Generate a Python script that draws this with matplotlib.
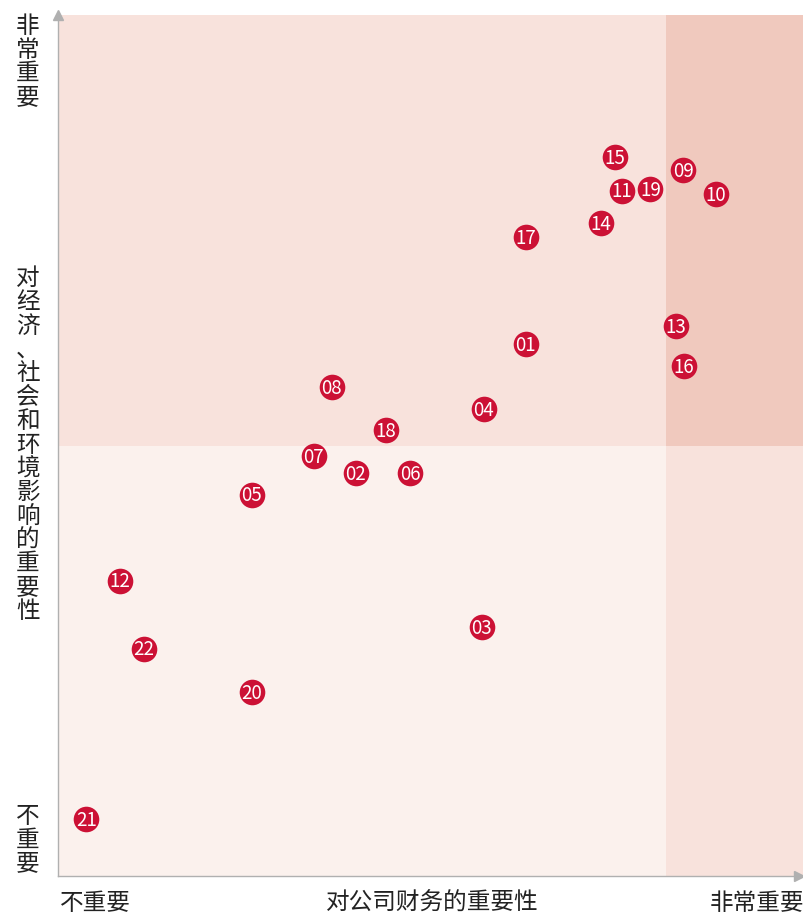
import matplotlib
matplotlib.use('Agg')

import matplotlib.pyplot as plt
from matplotlib.patches import Rectangle

plt.rcParams['font.family'] = ['Noto Sans CJK SC', 'DejaVu Sans']

# ==============================
# DATA
# ==============================

labels = ["01", "02", "03", "04", "05", "06", "07", "08", "09", "10", "11",
          "12", "13", "14", "15", "16", "17", "18", "19", "20", "21", "22"]
fin_importance = [62.7, 39.9, 56.8, 57.1, 26.0, 47.2, 34.3, 36.7, 83.8, 88.2, 75.6,
                  8.3, 82.8, 72.8, 74.7, 83.9, 62.7, 44.0, 79.4, 26.0, 3.8, 11.5]
impact_importance = [61.8, 46.8, 28.9, 54.2, 44.3, 46.8, 48.8, 56.8, 82.0, 79.2, 79.6,
                     34.3, 63.9, 75.8, 83.5, 59.2, 74.2, 51.8, 79.8, 21.4, 6.6, 26.4]

x_split = 81.5
y_split = 50

# ==============================
# FIGURE
# ==============================

fig = plt.figure(figsize=(8.04, 9.18), dpi=100)
ax = fig.add_axes([58 / 804, 42 / 918, 746 / 804, 861 / 918])
ax.set_xlim(0, 100)
ax.set_ylim(0, 100)

# quadrant backgrounds
ax.add_patch(Rectangle((0, y_split), x_split, 100 - y_split, color="#f8e2dc", lw=0, zorder=0))
ax.add_patch(Rectangle((x_split, y_split), 100 - x_split, 100 - y_split, color="#f0c9be", lw=0, zorder=0))
ax.add_patch(Rectangle((0, 0), x_split, y_split, color="#fbf1ed", lw=0, zorder=0))
ax.add_patch(Rectangle((x_split, 0), 100 - x_split, y_split, color="#f8e2dc", lw=0, zorder=0))

# points
ax.scatter(fin_importance, impact_importance, s=340, color="#cc1135", lw=0, zorder=3)
for lab, x, y in zip(labels, fin_importance, impact_importance):
    ax.text(x, y - 0.15, lab, color="white", fontsize=13.5, ha="center", va="center",
            fontweight="light", zorder=4)

# axes with arrows
for s in ["top", "right"]:
    ax.spines[s].set_visible(False)
for s in ["left", "bottom"]:
    ax.spines[s].set_color("#b0b0b0")
    ax.spines[s].set_linewidth(1.0)
ax.set_xticks([])
ax.set_yticks([])
ax.plot(0, 1, "^", color="#b0b0b0", ms=7, transform=ax.transAxes, clip_on=False)
ax.plot(1 - 5 / 746, 0, ">", color="#b0b0b0", ms=7, transform=ax.transAxes, clip_on=False)

# axis labels
txt = dict(fontsize=17, color="#222222")
vtxt = dict(fontsize=17, color="#222222", linespacing=1.04)
fig.text(28 / 804, 1 - 62 / 918, "\n".join("非常重要"), ha="center", va="center", **vtxt)
fig.text(28 / 804, 1 - 445 / 918, "\n".join("对经济、社会和环境影响的重要性"), ha="center", va="center", **vtxt)
fig.text(28 / 804, 1 - 840 / 918, "\n".join("不重要"), ha="center", va="center", **vtxt)
fig.text(60 / 804, 1 - 903 / 918, "不重要", ha="left", va="center", **txt)
fig.text(432 / 804, 1 - 903 / 918, "对公司财务的重要性", ha="center", va="center", **txt)
fig.text(804 / 804, 1 - 903 / 918, "非常重要", ha="right", va="center", **txt)

plt.savefig("out.png", dpi=100)
